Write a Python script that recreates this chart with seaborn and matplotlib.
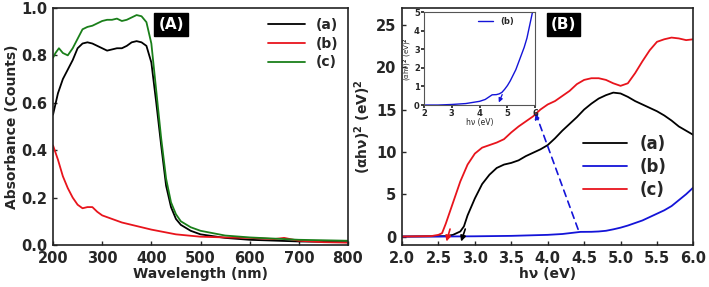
import numpy as np
import pandas as pd
import matplotlib
matplotlib.use("Agg")
import matplotlib.pyplot as plt
import seaborn as sns

sns.set_theme(style="ticks")
plt.rcParams['font.family'] = ['DejaVu Sans']
plt.rcParams['font.weight'] = 'bold'

# === Panel A: absorbance spectra
wl_a = [200, 210, 220, 230, 240, 250, 260, 270, 280, 290, 300, 310, 320, 330, 340, 350, 360, 370, 380, 390,
        400, 410, 420, 430, 440, 450, 460, 480, 500, 550, 600, 700, 800]
abs_a = [0.55, 0.64, 0.70, 0.74, 0.78, 0.83, 0.85, 0.855, 0.85, 0.84, 0.83, 0.82, 0.825, 0.83, 0.83, 0.84, 0.855, 0.86, 0.855, 0.84,
         0.77, 0.60, 0.42, 0.25, 0.16, 0.11, 0.085, 0.06, 0.045, 0.03, 0.022, 0.015, 0.012]

wl_b = [200, 210, 220, 230, 240, 250, 260, 270, 280, 290, 300, 320, 340, 360, 380, 400, 450, 500, 550, 600, 650, 670, 700, 750, 800]
abs_b = [0.42, 0.36, 0.29, 0.24, 0.20, 0.17, 0.155, 0.16, 0.16, 0.14, 0.125, 0.11, 0.095, 0.085, 0.075, 0.065, 0.045, 0.035, 0.032, 0.03,
         0.025, 0.03, 0.018, 0.012, 0.01]

wl_c = [200, 205, 212, 220, 230, 240, 250, 260, 270, 280, 290, 300, 310, 320, 330, 340, 350, 360, 370, 380, 390,
        400, 410, 420, 430, 440, 450, 460, 480, 500, 550, 600, 700, 800]
abs_c = [0.79, 0.81, 0.83, 0.81, 0.80, 0.83, 0.87, 0.91, 0.92, 0.925, 0.935, 0.945, 0.95, 0.95, 0.955, 0.945, 0.95, 0.96, 0.97, 0.965, 0.94,
         0.85, 0.65, 0.45, 0.28, 0.18, 0.13, 0.10, 0.075, 0.06, 0.04, 0.032, 0.022, 0.018]

# === Panel B: Tauc plots
ev_a = [2.0, 2.6, 2.7, 2.8, 2.85, 2.9, 3.0, 3.1, 3.2, 3.3, 3.4, 3.5, 3.6, 3.7, 3.8, 3.9, 4.0, 4.1, 4.2, 4.3, 4.4, 4.5,
        4.6, 4.7, 4.8, 4.9, 5.0, 5.1, 5.2, 5.3, 5.4, 5.5, 5.6, 5.7, 5.8, 5.9, 6.0]
tauc_a = [0, 0.05, 0.2, 0.6, 1.2, 2.5, 4.5, 6.2, 7.3, 8.1, 8.5, 8.7, 9.0, 9.5, 9.9, 10.3, 10.8, 11.6, 12.5, 13.3, 14.1, 15.0,
          15.7, 16.3, 16.7, 17.0, 16.9, 16.5, 16.0, 15.6, 15.2, 14.8, 14.3, 13.7, 13.0, 12.5, 12.0]

ev_b = [2.0, 2.5, 3.0, 3.5, 4.0, 4.2, 4.35, 4.45, 4.6, 4.7, 4.8, 4.9, 5.0, 5.1, 5.2, 5.3, 5.4, 5.5, 5.6, 5.7, 5.8, 5.9, 6.0]
tauc_b = [0, 0.0, 0.03, 0.08, 0.2, 0.3, 0.45, 0.55, 0.56, 0.6, 0.68, 0.85, 1.05, 1.3, 1.6, 1.9, 2.3, 2.7, 3.1, 3.6, 4.3, 5.0, 5.8]

ev_c = [2.0, 2.4, 2.5, 2.55, 2.6, 2.7, 2.8, 2.9, 3.0, 3.1, 3.2, 3.3, 3.4, 3.5, 3.6, 3.7, 3.8, 3.9, 4.0, 4.1, 4.2, 4.3, 4.4, 4.5,
        4.6, 4.7, 4.8, 4.9, 5.0, 5.1, 5.2, 5.3, 5.4, 5.5, 5.6, 5.7, 5.8, 5.9, 6.0]
tauc_c = [0, 0.05, 0.2, 0.4, 1.5, 4.0, 6.5, 8.5, 9.8, 10.5, 10.8, 11.1, 11.5, 12.3, 13.0, 13.6, 14.2, 15.0, 15.6, 16.0, 16.6, 17.2, 18.0, 18.5,
          18.7, 18.7, 18.5, 18.1, 17.8, 18.1, 19.3, 20.7, 22.0, 23.0, 23.3, 23.5, 23.4, 23.2, 23.3]

labels = ["(a)", "(b)", "(c)"]

fig = plt.figure(figsize=(7.09, 2.87), dpi=100)
ax1 = fig.add_axes([0.0748, 0.1463, 0.416, 0.826])
ax2 = fig.add_axes([0.567, 0.1463, 0.411, 0.826])
ax3 = fig.add_axes([0.598, 0.634, 0.157, 0.324])

# --- Panel A
sns.lineplot(x=wl_a, y=abs_a, ax=ax1, color="black", lw=1.3, label=labels[0])
sns.lineplot(x=wl_b, y=abs_b, ax=ax1, color="#e8141c", lw=1.3, label=labels[1])
sns.lineplot(x=wl_c, y=abs_c, ax=ax1, color="#1a7f1a", lw=1.3, label=labels[2])
ax1.set_xlim(200, 800)
ax1.set_ylim(0, 1.0)
ax1.set_xticks(np.arange(200, 801, 100))
ax1.set_yticks(np.arange(0, 1.01, 0.2))
ax1.set_xlabel("Wavelength (nm)", fontsize=10, fontweight="bold", labelpad=1)
ax1.set_ylabel("Absorbance (Counts)", fontsize=10, fontweight="bold", labelpad=2)
ax1.legend(loc="upper right", frameon=False, handlelength=2.6,
           borderaxespad=0.3, labelspacing=0.35, prop={"weight": "bold", "size": 10})
ax1.text(0.4, 0.93, "(A)", transform=ax1.transAxes, fontsize=11, fontweight="bold",
         color="white", ha="center", va="center",
         bbox=dict(boxstyle="square,pad=0.25", fc="black", ec="black"))

# --- Panel B
sns.lineplot(x=ev_a, y=tauc_a, ax=ax2, color="black", lw=1.3, label=labels[0])
sns.lineplot(x=ev_b, y=tauc_b, ax=ax2, color="#1414d8", lw=1.3, label=labels[1])
sns.lineplot(x=ev_c, y=tauc_c, ax=ax2, color="#e8141c", lw=1.3, label=labels[2])
ax2.set_xlim(2.0, 6.0)
ax2.set_ylim(-1, 27)
ax2.set_xticks(np.arange(2.0, 6.01, 0.5))
ax2.set_xticklabels([f"{v:.1f}" for v in np.arange(2.0, 6.01, 0.5)])
ax2.set_yticks(np.arange(0, 26, 5))
ax2.set_xlabel("h\u03bd (eV)", fontsize=10, fontweight="bold", labelpad=1)
ax2.set_ylabel("(\u03b1h\u03bd)$^\\mathbf{2}$ (eV)$^\\mathbf{2}$", fontsize=10, fontweight="bold", labelpad=2)
ax2.legend(loc="center right", bbox_to_anchor=(0.96, 0.33), frameon=False, handlelength=2.6,
           labelspacing=0.3, prop={"weight": "bold", "size": 12})
ax2.text(0.555, 0.93, "(B)", transform=ax2.transAxes, fontsize=11, fontweight="bold",
         color="white", ha="center", va="center",
         bbox=dict(boxstyle="square,pad=0.25", fc="black", ec="black"))

# tangent arrows at the x axis
ax2.annotate("", xy=(2.6, -0.9), xytext=(2.67, 1.2),
             arrowprops=dict(arrowstyle="-|>", color="#e8141c", lw=1.2, mutation_scale=8))
ax2.annotate("", xy=(2.8, -0.9), xytext=(2.88, 1.2),
             arrowprops=dict(arrowstyle="-|>", color="black", lw=1.2, mutation_scale=8))
# dashed pointer from blue curve to inset
ax2.annotate("", xy=(3.82, 14.9), xytext=(4.43, 0.55),
             arrowprops=dict(arrowstyle="-|>", color="#1414d8", lw=1.2, ls=(0, (4, 3)),
                             mutation_scale=8))

# --- Inset
sns.lineplot(x=ev_b, y=tauc_b, ax=ax3, color="#1414d8", lw=1.0, label=labels[1])
ax3.set_xlim(2, 6)
ax3.set_ylim(0, 5)
ax3.set_xticks([2, 3, 4, 5, 6])
ax3.set_yticks([0, 1, 2, 3, 4, 5])
ax3.tick_params(labelsize=6, length=2, pad=1, direction="out")
ax3.set_xlabel("h\u03bd (eV)", fontsize=5.5, labelpad=0, fontweight="normal")
ax3.set_ylabel("(\u03b1h\u03bd)$^2$ (eV)$^2$", fontsize=5, labelpad=0, fontweight="normal")
ax3.legend(loc="upper right", bbox_to_anchor=(0.85, 1.0), frameon=False, handlelength=1.8,
           borderaxespad=0.2, prop={"size": 6})
ax3.annotate("", xy=(4.65, 0.0), xytext=(4.85, 0.7),
             arrowprops=dict(arrowstyle="-|>", color="#1414d8", lw=0.9, mutation_scale=6))
for s in ax3.spines.values():
    s.set_color("#555555")
    s.set_linewidth(0.8)

for ax in (ax1, ax2):
    ax.tick_params(direction="in", length=3, width=1, labelsize=10.5, pad=4)
    for lab in ax.get_xticklabels() + ax.get_yticklabels():
        lab.set_fontweight("bold")
    for s in ax.spines.values():
        s.set_linewidth(1.2)
        s.set_color("#222222")

fig.savefig("out.png", dpi=100)
